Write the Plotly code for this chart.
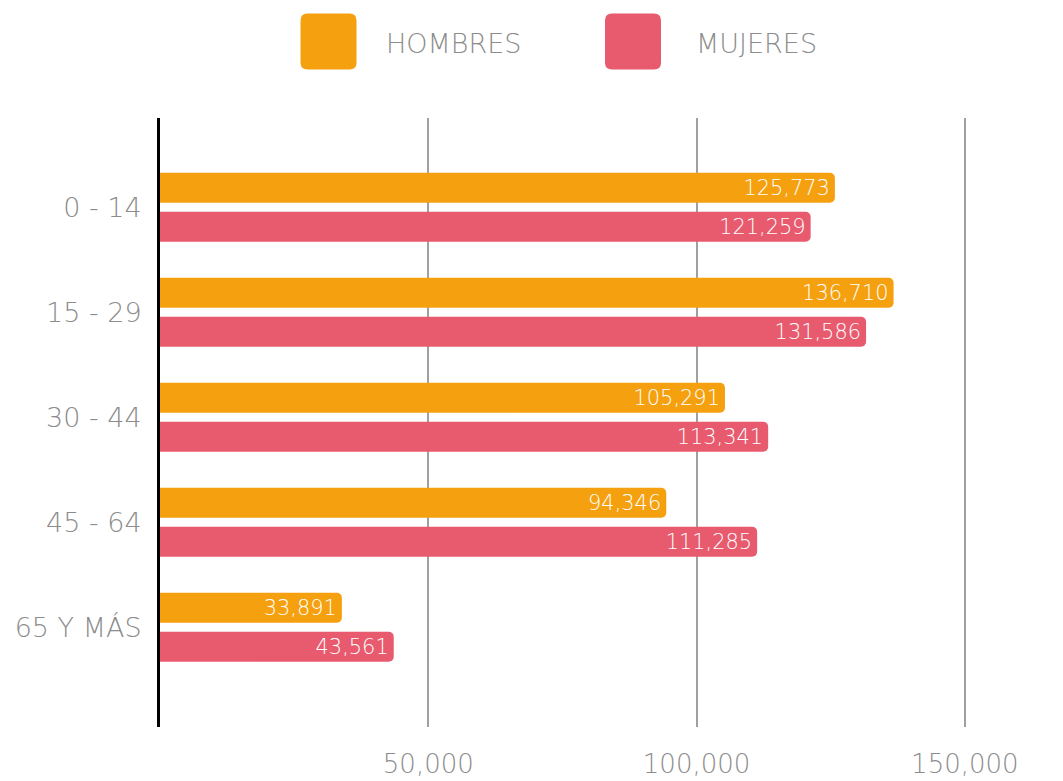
import plotly.graph_objects as go

# population by age group
grupos = ["0 - 14", "15 - 29", "30 - 44", "45 - 64", "65 Y MÁS"]
hombres = [125773, 136710, 105291, 94346, 33891]
mujeres = [121259, 131586, 113341, 111285, 43561]
ticks_x = [50000, 100000, 150000]

naranja = "#F5A00F"
rosa = "#E85A6E"
gris = "#8C8C8C"
fuente = "DejaVu Sans"

fig = go.Figure()
for nombre, vals, color in [("HOMBRES", hombres, naranja), ("MUJERES", mujeres, rosa)]:
    fig.add_trace(go.Bar(
        y=grupos, x=vals, name=nombre, orientation="h",
        marker=dict(color=color, cornerradius=5, line_width=0),
        texttemplate="%{x:,}", textposition="inside", insidetextanchor="end",
        constraintext="none",
        textfont=dict(family=fuente, size=27, color="white", weight=300),
        showlegend=False,
    ))

# legend drawn as rounded squares + labels
def cuadro(cx, color):
    r, h = 7, 28
    p = (f"M {-h+r},{-h} L {h-r},{-h} Q {h},{-h} {h},{-h+r} L {h},{h-r} Q {h},{h} {h-r},{h} "
         f"L {-h+r},{h} Q {-h},{h} {-h},{h-r} L {-h},{-h+r} Q {-h},{-h} {-h+r},{-h} Z")
    fig.add_shape(type="path", path=p, xref="paper", yref="paper",
                  xsizemode="pixel", ysizemode="pixel", xanchor=cx, yanchor=1.1256,
                  fillcolor=color, line_width=0)

cuadro(0.1915, naranja)
cuadro(0.5375, rosa)
for x, txt in [(0.255, "HOMBRES"), (0.607, "MUJERES")]:
    fig.add_annotation(x=x, y=1.122, xref="paper", yref="paper", text=txt,
                       showarrow=False, xanchor="left", yanchor="middle",
                       font=dict(family=fuente, size=27, color=gris, weight=300))

fig.update_layout(
    width=1063, height=781,
    margin=dict(l=160, r=23, t=118, b=54),
    paper_bgcolor="white", plot_bgcolor="white",
    barmode="group", bargap=0.257, bargroupgap=0.23,
    font=dict(family=fuente, color=gris),
)
fig.update_xaxes(range=[0, 164000], tickvals=ticks_x, tickformat=",",
                 showgrid=True, gridcolor="#A0A0A0", gridwidth=1.5,
                 zeroline=False, showline=False, ticks="", automargin=False,
                 ticklabelstandoff=19,
                 tickfont=dict(family=fuente, size=26, color=gris, weight=300))
fig.update_yaxes(type="category", range=[4.95, -0.85], showgrid=False,
                 showline=True, linecolor="black", linewidth=3, zeroline=False,
                 ticks="", ticklabelstandoff=10, automargin=False,
                 tickfont=dict(family=fuente, size=27, color=gris, weight=300))

# drop the default page margin so the figure fills the window
fig.write_html("out.html", config={"displayModeBar": False},
               post_script="document.body.style.margin='0';")
